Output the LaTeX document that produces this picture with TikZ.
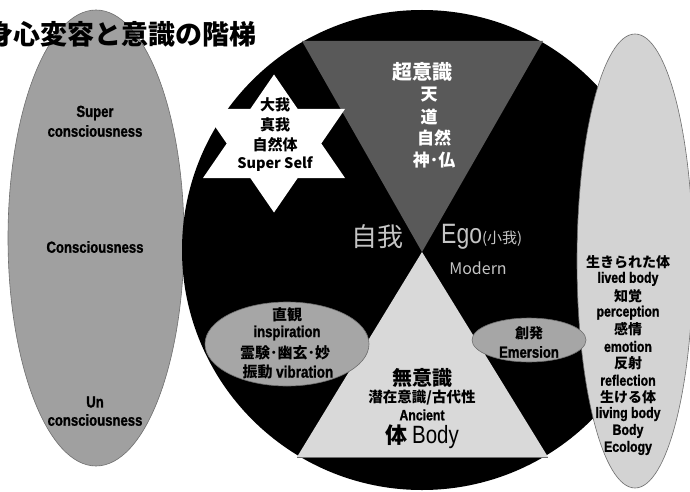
\documentclass[tikz,border=0pt]{standalone}
\usepackage{fontspec}
\setmainfont{Noto Sans CJK JP}
\newfontfamily\narf{Liberation Sans}[FakeStretch=0.82, BoldFont={Liberation Sans Bold}, BoldFeatures={FakeBold=1.2}]
\definecolor{lgrey}{HTML}{A0A0A0}
\definecolor{sgrey}{HTML}{A6A6A6}
\definecolor{rgrey}{HTML}{D3D3D3}
\definecolor{upgrey}{HTML}{595959}
\definecolor{lowgrey}{HTML}{D9D9D9}
\definecolor{edgegrey}{HTML}{6E6E6E}
\definecolor{egogrey}{HTML}{C4C4C4}
\begin{document}
\begin{tikzpicture}[x=1pt,y=-1pt,
  txt/.style={inner sep=0pt, font=\bfseries\fontsize{#1}{#1}\selectfont},
  txt/.default=14,
  ltxt/.style={inner sep=0pt, font=\narf\bfseries\fontsize{#1}{#1}\selectfont},
  wtxt/.style={txt=#1, text=white},
  gtxt/.style={inner sep=0pt, text=egogrey, font=\fontsize{#1}{#1}\selectfont},
  blob/.style={draw=edgegrey, line width=0.6pt}
]
\useasboundingbox (0,0) rectangle (690,492);
\clip (0,0) rectangle (690,492);
\fill[white] (0,0) rectangle (690,492);
% left ellipse
\draw[blob, fill=lgrey] (96,238) ellipse [x radius=88, y radius=228];
% title
\node[txt=27, anchor=west] (title) at (-14,34) {身心変容と意識の階梯};
% big black circle
\fill[black] (422,250) ellipse [x radius=240, y radius=240];
% upper and lower triangles
\fill[upgrey] (302,41) -- (543,41) -- (422,252) -- cycle;
\fill[lowgrey] (422,252) -- (548,457) -- (297,457) -- cycle;
\draw[edgegrey, line width=1pt] (297,457) -- (548,457);
% star
\fill[white] (274,74.5) -- (297.7,109) -- (345,109) -- (321.3,143.5) -- (345,178)
  -- (297.7,178) -- (274,212.5) -- (250.3,178) -- (203,178) -- (226.7,143.5)
  -- (203,109) -- (250.3,109) -- cycle;
% small left ellipse
\draw[blob, fill=sgrey] (287,344) ellipse [x radius=82, y radius=42];
% right ellipse
\draw[blob, fill=rgrey] (635,261) ellipse [x radius=58, y radius=227];
% emersion ellipse
\draw[blob, fill=sgrey] (529,340) ellipse [x radius=57, y radius=22];

% left ellipse texts
\node[ltxt=16] (sup1) at (95,113) {Super};
\node[ltxt=16] (sup2) at (95,131) {consciousness};
\node[ltxt=16] (con) at (95,247) {Consciousness};
\node[ltxt=16] (un1) at (95,402) {Un};
\node[ltxt=16] (un2) at (95,420) {consciousness};

% star texts
\node[txt=15] (s1) at (275,105) {大我};
\node[txt=15] (s2) at (275,125) {真我};
\node[txt=15] (s3) at (275,145) {自然体};
\node[txt=14.5] (s4) at (275,164) {Super Self};

% upper triangle texts
\node[wtxt=20] (u0) at (422,72) {超意識};
\node[wtxt=17] (u1) at (429,95) {天};
\node[wtxt=17] (u2) at (429,117) {道};
\node[wtxt=17] (u3) at (434,138) {自然};
\node[wtxt=17] (u4) at (434,160) {神･仏};

% ego texts
\node[gtxt=26] (jiga) at (377,237) {自我};
\node[gtxt=28, anchor=west] (ego) at (441,237) {{\narf Ego}{\fontsize{15}{15}\selectfont(小我)}};
\node[gtxt=16] (modern) at (478,268) {Modern};

% intuition ellipse texts
\node[txt=15] (i1) at (287,315) {直観};
\node[ltxt=16] (i2) at (287,333) {inspiration};
\node[txt=15] (i3) at (285,353) {霊験･幽玄･妙};
\node[txt=15] (i4) at (288,372) {振動 {\narf\fontsize{16.5}{16.5}\selectfont vibration}};

% emersion texts
\node[txt=14] (e1) at (529,333) {創発};
\node[ltxt=16] (e2) at (529,352) {Emersion};

% lower triangle texts
\node[txt=20] (l1) at (422,378) {無意識};
\node[txt=14.5] (l2) at (422,398) {潜在意識/古代性};
\node[ltxt=15] (l3) at (422,415) {Ancient};
\node[txt=22] (l4) at (422,437) {体 {\narf\mdseries\fontsize{25}{25}\selectfont Body}};

% right ellipse texts
\foreach \t [count=\i] in {生きられた体, 知覚, 感情, 反射, 生ける体}
  \node[txt=14] (rj\i) at (628,{262+33.8*(\i-1)}) {\t};
\foreach \t [count=\i] in {lived body, perception, emotion, reflection, living body}
  \node[ltxt=15] (rl\i) at (628,{278.9+33.8*(\i-1)}) {\t};
\node[ltxt=15] (rb) at (628,431) {Body};
\node[ltxt=15] (re) at (628,448) {Ecology};
\end{tikzpicture}
\end{document}
